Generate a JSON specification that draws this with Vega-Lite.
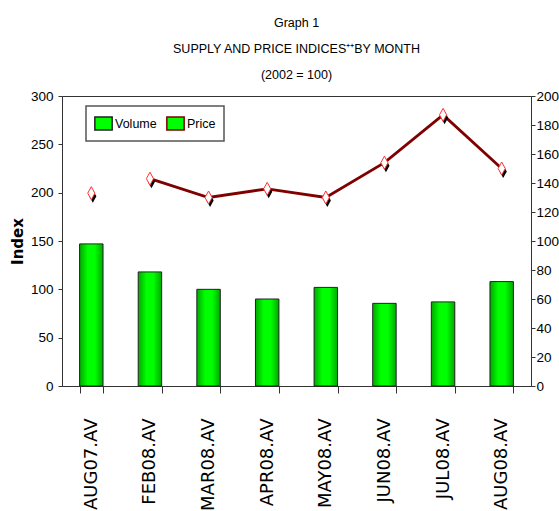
{
  "$schema": "https://vega.github.io/schema/vega-lite/v6.json",
  "width": 469,
  "height": 290,
  "autosize": {"type": "none"},
  "padding": {"left": 62, "top": 96, "right": 28, "bottom": 125},
  "background": "white",
  "title": {
    "text": ["Graph 1", "SUPPLY AND PRICE INDICES⁺⁺BY MONTH", "(2002 = 100)"],
    "font": "Liberation Sans",
    "fontSize": 12.5,
    "fontWeight": "normal",
    "lineHeight": 26,
    "color": "#000",
    "anchor": "middle",
    "offset": 8
  },
  "config": {
    "view": {"stroke": "#333", "strokeWidth": 1},
    "axis": {"domainColor": "#333", "tickColor": "#333", "labelColor": "#000", "grid": false}
  },
  "data": {
    "values": [
      {"month": "AUG07.AV", "volume": 147, "price": 133},
      {"month": "FEB08.AV", "volume": 118, "price": 143},
      {"month": "MAR08.AV", "volume": 100, "price": 130},
      {"month": "APR08.AV", "volume": 90, "price": 136},
      {"month": "MAY08.AV", "volume": 102, "price": 130},
      {"month": "JUN08.AV", "volume": 85.5, "price": 154},
      {"month": "JUL08.AV", "volume": 87, "price": 187},
      {"month": "AUG08.AV", "volume": 108, "price": 150}
    ]
  },
  "encoding": {
    "x": {
      "field": "month",
      "type": "nominal",
      "sort": null,
      "scale": {"paddingInner": 0.6, "paddingOuter": 0.3},
      "axis": {
        "title": null,
        "labelAngle": -90,
        "labelAlign": "right",
        "labelBaseline": "middle",
        "labelFont": "DejaVu Sans",
        "labelFontWeight": "normal",
        "labelFontSize": 18,
        "tickBand": "extent",
        "tickSize": 7,
        "labelPadding": 25
      }
    }
  },
  "layer": [
    {
      "mark": {
        "type": "bar",
        "strokeWidth": 1,
        "fill": {"gradient": "linear", "x1": 0, "y1": 0, "x2": 1, "y2": 0,
          "stops": [{"offset": 0, "color": "#00a800"}, {"offset": 0.35, "color": "#00ff00"}, {"offset": 0.65, "color": "#00ff00"}, {"offset": 1, "color": "#00a800"}]}
      },
      "encoding": {
        "y": {
          "field": "volume",
          "type": "quantitative",
          "scale": {"domain": [0, 300]},
          "axis": {
            "title": "Index",
            "titleFont": "DejaVu Sans",
            "titleFontWeight": "bold",
            "titleFontSize": 15,
            "titleColor": "#000",
            "titlePadding": 5,
            "values": [0, 50, 100, 150, 200, 250, 300],
            "labelFont": "Liberation Sans",
            "labelFontSize": 13.5,
            "tickSize": 4,
            "labelPadding": 5
          }
        },
        "stroke": {
          "datum": "Volume",
          "scale": {"domain": ["Volume", "Price"], "range": ["#222222", "#800000"]},
          "legend": {
            "title": null,
            "orient": "none",
            "legendX": 24,
            "legendY": 10,
            "direction": "horizontal",
            "strokeColor": "#555",
            "fillColor": "white",
            "padding": 8,
            "columnPadding": 6,
            "labelFont": "Liberation Sans",
            "labelFontSize": 12.5,
            "labelColor": "#000",
            "labelOffset": 2,
            "symbolSize": 400,
            "encode": {
              "legend": {"update": {"strokeWidth": {"value": 1.5}}},
              "symbols": {
                "update": {
                  "shape": {"condition": {"test": "datum.value === 'Price'", "value": "M-1,0L-0.5,0M0.5,0L1,0M0,-0.5L0.5,0L0,0.5L-0.5,0Z"}, "value": "M-1,-0.75L1,-0.75L1,0.75L-1,0.75Z"},
                  "fill": {"condition": {"test": "datum.value === 'Price'", "value": "white"}, "value": "#00ff00"},
                  "stroke": {"condition": {"test": "datum.value === 'Price'", "value": "#c00000"}, "value": "#000000"},
                  "strokeWidth": {"value": 1.5},
                  "opacity": {"value": 1},
                  "size": {"condition": {"test": "datum.value === 'Price'", "value": 361}, "value": 300}
                }
              }
            }
          }
        }
      }
    },
    {
      "encoding": {
        "y": {
          "field": "price",
          "type": "quantitative",
          "scale": {"domain": [0, 200]},
          "axis": {
            "orient": "right",
            "title": null,
            "values": [0, 20, 40, 60, 80, 100, 120, 140, 160, 180, 200],
            "labelFont": "Liberation Sans",
            "labelFontSize": 13.5,
            "tickSize": 4,
            "labelPadding": 1
          }
        }
      },
      "layer": [
        {
          "transform": [{"filter": "datum.month !== 'AUG07.AV'"}],
          "mark": {"type": "line", "strokeWidth": 2.8},
          "encoding": {
            "stroke": {
              "datum": "Price",
              "legend": {
                "title": null,
                "orient": "none",
                "legendX": 24,
                "legendY": 10,
                "direction": "horizontal",
                "strokeColor": "#555",
                "fillColor": "white",
                "padding": 8,
                "columnPadding": 6,
                "labelFont": "Liberation Sans",
                "labelFontSize": 12.5,
                "labelColor": "#000",
                "labelOffset": 2,
                "symbolSize": 400,
                "encode": {
                  "legend": {"update": {"strokeWidth": {"value": 1.5}}},
                  "symbols": {
                    "update": {
                      "shape": {"condition": {"test": "datum.value === 'Price'", "value": "M-1,0L-0.5,0M0.5,0L1,0M0,-0.5L0.5,0L0,0.5L-0.5,0Z"}, "value": "M-1,-0.75L1,-0.75L1,0.75L-1,0.75Z"},
                      "fill": {"condition": {"test": "datum.value === 'Price'", "value": "white"}, "value": "#00ff00"},
                      "stroke": {"condition": {"test": "datum.value === 'Price'", "value": "#c00000"}, "value": "#000000"},
                      "strokeWidth": {"value": 1.5},
                      "opacity": {"value": 1},
                      "size": {"condition": {"test": "datum.value === 'Price'", "value": 361}, "value": 300}
                    }
                  }
                }
              }
            }
          }
        },
        {
          "mark": {"type": "point", "shape": "M0,-1L0.55,0L0,1L-0.55,0Z", "filled": true, "color": "#000", "opacity": 1, "size": 169, "xOffset": 1.5, "yOffset": 3}
        },
        {
          "mark": {"type": "point", "shape": "M0,-1L0.55,0L0,1L-0.55,0Z", "filled": true, "fill": "white", "stroke": "#ff3030", "strokeWidth": 1, "opacity": 1, "size": 169}
        }
      ]
    }
  ],
  "resolve": {"scale": {"y": "independent"}}
}
